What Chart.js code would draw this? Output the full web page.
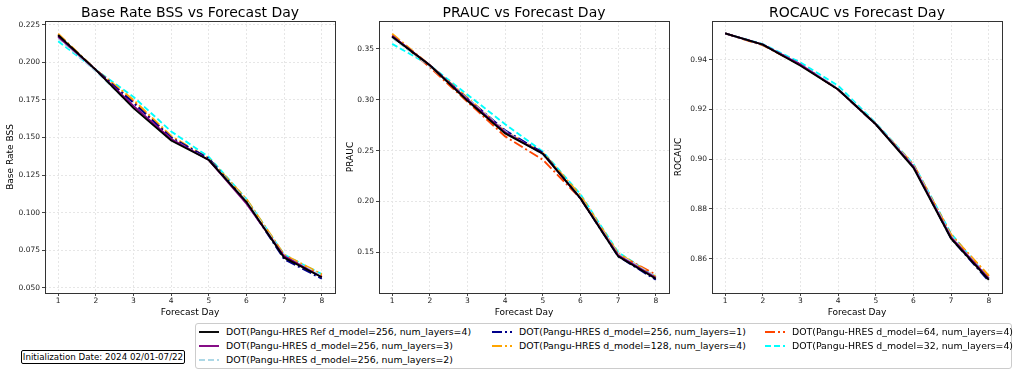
<!DOCTYPE html>
<html>
<head>
<meta charset="utf-8">
<script src="https://cdn.jsdelivr.net/npm/chart.js@4.4.1/dist/chart.umd.min.js"></script>
<style>
body { margin: 0; background: #fff; font-family: 'DejaVu Sans', sans-serif; }
#wrap { position: relative; width: 1021px; height: 374px; overflow: hidden; }
#wrap canvas { position: absolute; top: 0; }
#legend { position: absolute; left: 195px; top: 323px; width: 817px; height: 46px; border: 1px solid #ccc; border-radius: 3px; box-sizing: border-box; }
.item { position: absolute; height: 14px; font-size: 9.35px; line-height: 14px; white-space: nowrap; color: #000; }
.item svg { position: absolute; left: 0; top: 0; }
.item span { position: absolute; left: 28px; top: 0; }
#init { position: absolute; left: 21px; top: 350px; width: 164px; height: 14px; border: 1px solid #000; border-radius: 2px; box-sizing: border-box; font-size: 8.7px; line-height: 12px; text-align: center; white-space: nowrap; }
</style>
</head>
<body>
<div id="wrap">
  <canvas id="c1" width="336" height="318" style="left:0px"></canvas>
  <canvas id="c2" width="330" height="318" style="left:340px"></canvas>
  <canvas id="c3" width="335" height="318" style="left:668px"></canvas>
  <div id="legend"></div>
  <div id="init">Initialization Date: 2024 02/01-07/22</div>
</div>
<script>
const days = [1, 2, 3, 4, 5, 6, 7, 8];
const seriesNames = [
    'DOT(Pangu-HRES Ref d_model=256, num_layers=4)',
    'DOT(Pangu-HRES d_model=256, num_layers=3)',
    'DOT(Pangu-HRES d_model=256, num_layers=2)',
    'DOT(Pangu-HRES d_model=256, num_layers=1)',
    'DOT(Pangu-HRES d_model=128, num_layers=4)',
    'DOT(Pangu-HRES d_model=64, num_layers=4)',
    'DOT(Pangu-HRES d_model=32, num_layers=4)'
];

// Base Rate BSS
const bssRef  = [0.218, 0.195, 0.1695, 0.148, 0.135, 0.107, 0.070, 0.057];
const bssL3   = [0.217, 0.195, 0.171, 0.149, 0.135, 0.106, 0.071, 0.057];
const bssL2   = [0.216, 0.194, 0.170, 0.149, 0.135, 0.108, 0.071, 0.058];
const bssL1   = [0.218, 0.195, 0.173, 0.150, 0.136, 0.107, 0.069, 0.056];
const bssD128 = [0.219, 0.195, 0.175, 0.151, 0.136, 0.109, 0.072, 0.059];
const bssD64  = [0.218, 0.195, 0.174, 0.150, 0.135, 0.108, 0.071, 0.058];
const bssD32  = [0.214, 0.195, 0.177, 0.154, 0.137, 0.109, 0.072, 0.059];

// PRAUC
const prRef  = [0.362, 0.334, 0.299, 0.267, 0.247, 0.203, 0.146, 0.124];
const prL3   = [0.363, 0.334, 0.300, 0.268, 0.247, 0.203, 0.147, 0.125];
const prL2   = [0.361, 0.333, 0.301, 0.269, 0.246, 0.204, 0.148, 0.126];
const prL1   = [0.362, 0.334, 0.301, 0.270, 0.248, 0.203, 0.146, 0.123];
const prD128 = [0.365, 0.334, 0.302, 0.269, 0.248, 0.206, 0.149, 0.126];
const prD64  = [0.363, 0.332, 0.298, 0.264, 0.241, 0.203, 0.148, 0.128];
const prD32  = [0.355, 0.334, 0.305, 0.276, 0.249, 0.207, 0.150, 0.126];

// ROCAUC
const rocRef  = [0.9505, 0.946, 0.9375, 0.928, 0.914, 0.8965, 0.868, 0.8515];
const rocL3   = [0.9505, 0.946, 0.938, 0.928, 0.914, 0.897, 0.8685, 0.852];
const rocL2   = [0.9505, 0.946, 0.938, 0.9285, 0.9142, 0.8975, 0.869, 0.852];
const rocL1   = [0.9505, 0.946, 0.938, 0.928, 0.914, 0.897, 0.868, 0.851];
const rocD128 = [0.9505, 0.9458, 0.938, 0.928, 0.914, 0.8978, 0.8695, 0.8532];
const rocD64  = [0.9505, 0.9458, 0.9378, 0.928, 0.914, 0.8978, 0.8695, 0.853];
const rocD32  = [0.9505, 0.9462, 0.9388, 0.9295, 0.9145, 0.898, 0.870, 0.852];

const bssTicks = [0.050, 0.075, 0.100, 0.125, 0.150, 0.175, 0.200, 0.225];
const prTicks = [0.15, 0.20, 0.25, 0.30, 0.35];
const rocTicks = [0.86, 0.88, 0.90, 0.92, 0.94];

// line styles, same order as seriesNames
const colors = ['#000000', '#800080', '#add8e6', '#00008b', '#ffa500', '#ff4500', '#00ffff'];
const dashes = [[], [], [6, 3], [10, 3, 2, 3], [10, 3, 2, 3], [10, 3, 2, 3], [6, 3]];

const FONT = 'DejaVu Sans';

// axes frame + title centred over the plot area (matplotlib style)
const frame = {
    id: 'frame',
    afterDraw(chart, args, opts) {
        const a = chart.chartArea;
        const c = chart.ctx;
        c.save();
        c.strokeStyle = '#333';
        c.lineWidth = 1;
        c.strokeRect(Math.round(a.left) + 0.5, Math.round(a.top) + 0.5, Math.round(a.right - a.left), Math.round(a.bottom - a.top));
        c.fillStyle = '#000';
        c.font = '14px "' + FONT + '"';
        c.textAlign = 'center';
        c.textBaseline = 'alphabetic';
        c.fillText(opts.text, (a.left + a.right) / 2, 17);
        c.restore();
    }
};

function makePanel(id, title, yTitle, arrays, yTicks, yMin, yMax, dec, yWidth) {
    const ctx = document.getElementById(id).getContext('2d');
    return new Chart(ctx, {
        type: 'line',
        data: {
            datasets: arrays.map((arr, i) => ({
                label: seriesNames[i],
                data: days.map((d, j) => ({ x: d, y: arr[j] })),
                borderColor: colors[i],
                backgroundColor: colors[i],
                borderWidth: 1.9,
                borderDash: dashes[i],
                pointRadius: 0,
                tension: 0,
                fill: false
            }))
        },
        options: {
            responsive: false,
            animation: false,
            devicePixelRatio: 1,
            layout: { padding: { left: 0, right: 1, top: 21, bottom: 0 } },
            plugins: {
                legend: { display: false },
                tooltip: { enabled: false },
                title: { display: false },
                frame: { text: title }
            },
            scales: {
                x: {
                    type: 'linear',
                    min: 0.65,
                    max: 8.35,
                    afterBuildTicks: s => { s.ticks = days.map(v => ({ value: v })); },
                    afterFit: s => { s.height = 25; },
                    ticks: { color: '#222', font: { family: FONT, size: 7.5 }, padding: 1, callback: v => String(v) },
                    grid: { color: '#e6e6e6', tickColor: '#444', tickLength: 3 },
                    border: { display: false, dash: [2, 2] },
                    title: { display: true, text: 'Forecast Day', color: '#000', font: { family: FONT, size: 9 }, padding: { top: 0, bottom: 0 } }
                },
                y: {
                    min: yMin,
                    max: yMax,
                    afterBuildTicks: s => { s.ticks = yTicks.map(v => ({ value: v })); },
                    afterFit: s => { s.width = yWidth; },
                    ticks: { color: '#222', font: { family: FONT, size: 7.5 }, padding: 2, callback: v => Number(v).toFixed(dec) },
                    grid: { color: '#e6e6e6', tickColor: '#444', tickLength: 3 },
                    border: { display: false, dash: [2, 2] },
                    title: { display: true, text: yTitle, color: '#000', font: { family: FONT, size: 9 }, padding: { top: 5, bottom: 0 } }
                }
            }
        },
        plugins: [frame]
    });
}

makePanel('c1', 'Base Rate BSS vs Forecast Day', 'Base Rate BSS',
    [bssRef, bssL3, bssL2, bssL1, bssD128, bssD64, bssD32], bssTicks, 0.0465, 0.2275, 3, 45);
makePanel('c2', 'PRAUC vs Forecast Day', 'PRAUC',
    [prRef, prL3, prL2, prL1, prD128, prD64, prD32], prTicks, 0.110, 0.3775, 2, 39);
makePanel('c3', 'ROCAUC vs Forecast Day', 'ROCAUC',
    [rocRef, rocL3, rocL2, rocL1, rocD128, rocD64, rocD32], rocTicks, 0.8462, 0.9555, 2, 44);

// legend, 3 columns filled column by column
const legendPos = [[2, 1], [2, 15], [2, 29], [295, 1], [295, 15], [568, 1], [568, 15]];
const legend = document.getElementById('legend');
seriesNames.forEach((name, i) => {
    const div = document.createElement('div');
    div.className = 'item';
    div.style.left = legendPos[i][0] + 'px';
    div.style.top = legendPos[i][1] + 'px';
    div.innerHTML = '<svg width="22" height="14"><line x1="1" y1="7" x2="21" y2="7" stroke="' + colors[i] +
        '" stroke-width="1.9" stroke-dasharray="' + (dashes[i].length ? dashes[i].join(',') : 'none') + '"/></svg>' +
        '<span></span>';
    div.querySelector('span').textContent = name;
    legend.appendChild(div);
});
</script>
</body>
</html>
